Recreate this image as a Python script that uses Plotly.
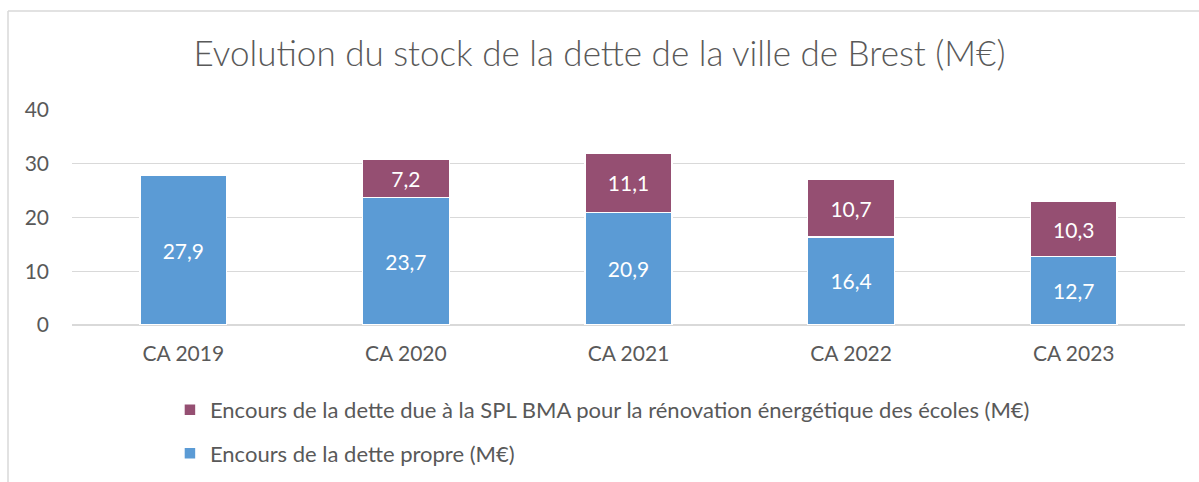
import plotly.graph_objects as go

categories = ["CA 2019", "CA 2020", "CA 2021", "CA 2022", "CA 2023"]
dette_propre = [27.9, 23.7, 20.9, 16.4, 12.7]
dette_spl = [None, 7.2, 11.1, 10.7, 10.3]
y_ticks = [0, 10, 20, 30, 40]

name_propre = "Encours de la dette propre (M€)"
name_spl = "Encours de la dette due à la SPL BMA pour la rénovation énergétique des écoles (M€)"

FONT = "Lato, 'Open Sans', sans-serif"
TXT = "#595959"
GRID = "#D9D9D9"

fig = go.Figure()
fig.add_trace(go.Bar(
    x=categories, y=dette_propre, name=name_propre, legendgroup="b", legendrank=2,
    marker=dict(color="#5B9BD5", line=dict(color="white", width=1.5)),
    texttemplate="%{y:.1f}", textposition="inside", insidetextanchor="middle",
    textfont=dict(color="white", size=21, family=FONT), constraintext="none",
    hoverinfo="skip",
))
fig.add_trace(go.Bar(
    x=categories, y=dette_spl, name=name_spl, legendgroup="a", legendrank=1,
    marker=dict(color="#954F72", line=dict(color="white", width=1.5)),
    texttemplate="%{y:.1f}", textposition="inside", insidetextanchor="middle",
    textfont=dict(color="white", size=21, family=FONT), constraintext="none",
    hoverinfo="skip",
))

fig.update_layout(
    width=1199, height=482,
    barmode="stack", bargap=0.61,
    separators=", ",
    paper_bgcolor="white", plot_bgcolor="white",
    margin=dict(l=72, r=14, t=110, b=157),
    font=dict(family=FONT, color=TXT, size=21),
    title=dict(text="Evolution du stock de la dette de la ville de Brest (M€)",
               x=0.5, xanchor="center", y=0.888, yanchor="middle",
               font=dict(size=35, color=TXT, family=FONT, weight=300)),
    showlegend=True,
    legend=dict(orientation="v", x=0.088, xanchor="left",
                yref="container", y=0.193, yanchor="top",
                traceorder="grouped", tracegroupgap=12,
                font=dict(size=22, color=TXT, family=FONT),
                itemwidth=30, bgcolor="rgba(0,0,0,0)"),
)
fig.update_yaxes(range=[0, 40], tickvals=y_ticks, showgrid=True, gridcolor=GRID, gridwidth=1,
                 zeroline=True, zerolinecolor=GRID, zerolinewidth=1.5,
                 showline=False, ticks="", ticklabelstandoff=22,
                 tickfont=dict(size=21, color=TXT, family=FONT))
fig.update_xaxes(showline=False, ticks="", ticklabelstandoff=14,
                 tickfont=dict(size=21, color=TXT, family=FONT))

# chart frame (light grey border, cut at right/bottom as in reference)
fx = (8 - 72) / 1113
fy = (325 - 11) / 215
fig.add_shape(type="line", xref="paper", yref="paper",
              x0=fx, x1=1.2, y0=fy, y1=fy, line=dict(color=GRID, width=1.5))
fig.add_shape(type="line", xref="paper", yref="paper",
              x0=fx, x1=fx, y0=fy, y1=-1.0, line=dict(color=GRID, width=1.5))

fig.write_html("out.html", config={"displayModeBar": False},
               post_script="document.body.style.margin='0';document.body.style.overflow='hidden';")
